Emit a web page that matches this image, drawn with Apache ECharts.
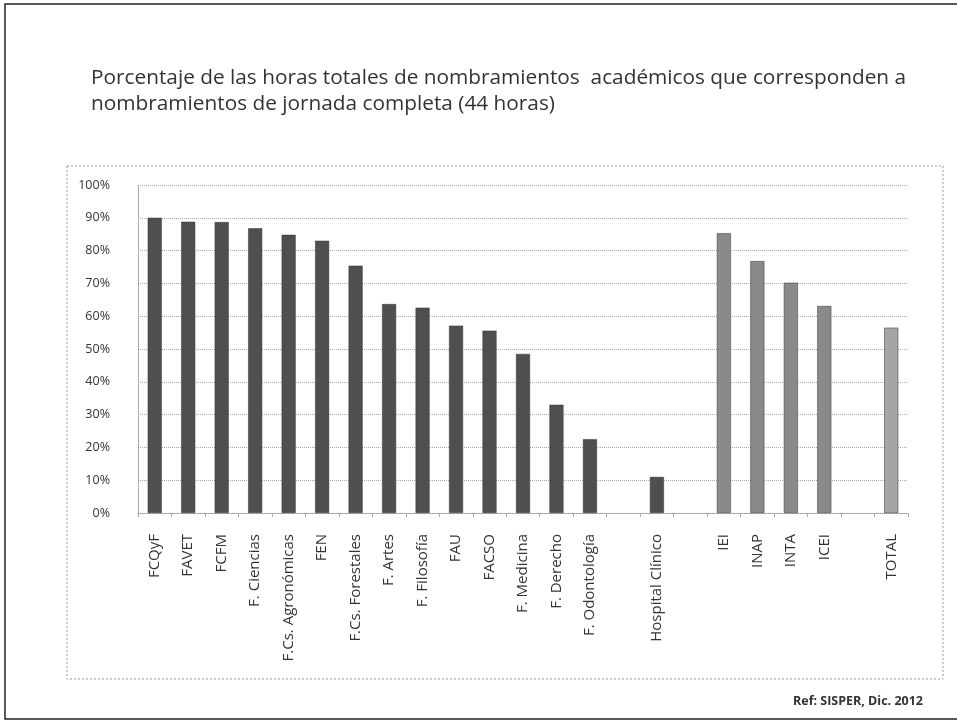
<!DOCTYPE html>
<html><head><meta charset="utf-8">
<script src="https://cdn.jsdelivr.net/npm/echarts@6/dist/echarts.min.js"></script>
<style>html,body{margin:0;padding:0;background:#fff}#c{width:957px;height:721px}</style>
</head><body><div id="c"></div>
<script>
const categories = ["FCQyF","FAVET","FCFM","F. Ciencias","F.Cs. Agronómicas","FEN","F.Cs. Forestales","F. Artes","F. Filosofía","FAU","FACSO","F. Medicina","F. Derecho","F. Odontología","","Hospital Clínico","","IEI","INAP","INTA","ICEI","","TOTAL"];
const values = [90,88.8,88.7,86.8,84.8,83,75.4,63.7,62.6,57.1,55.6,48.5,33,22.5,null,11,null,85.3,76.8,70.2,63.1,null,56.5];
const institutos = ["IEI","INAP","INTA","ICEI"];
const totalLabel = "TOTAL";
const yTicks = [0,10,20,30,40,50,60,70,80,90,100];
const titleLines = ["Porcentaje de las horas totales de nombramientos  académicos que corresponden a","nombramientos de jornada completa (44 horas)"];
const sourceNote = "Ref: SISPER, Dic. 2012";

const chart = echarts.init(document.getElementById('c'), null, {renderer:'canvas'});
chart.setOption({
  backgroundColor:'#fff',
  animation:false,
  title:{
    text: titleLines.join('\n'),
    left:86, top:60,
    textStyle:{fontFamily:'Open Sans', fontSize:20.8, fontWeight:'normal', color:'#333', lineHeight:26}
  },
  graphic:[
    {type:'rect', shape:{x:5,y:4,width:960,height:715}, style:{fill:'none', stroke:'#222', lineWidth:1.5}, silent:true},
    {type:'rect', shape:{x:67,y:166,width:876,height:513}, style:{fill:'none', stroke:'#999', lineWidth:1, lineDash:[2,2]}, silent:true},
    {type:'text', right:34, top:695, style:{text:sourceNote, fontFamily:'Open Sans', fontSize:12.5, fontWeight:'bold', fill:'#333'}}
  ],
  grid:{left:138, right:49, top:185, bottom:208, containLabel:false},
  xAxis:{
    type:'category', data:categories,
    axisLine:{lineStyle:{color:'#999', type:'dotted'}},
    axisTick:{show:true, length:4, lineStyle:{color:'#aaa'}},
    axisLabel:{rotate:90, interval:0, margin:21, fontFamily:'Open Sans', fontSize:15, color:'#333'}
  },
  yAxis:{
    type:'value', min:0, max:100, interval:10,
    axisLine:{show:true, lineStyle:{color:'#999', type:'dotted'}},
    axisTick:{show:false},
    splitLine:{lineStyle:{color:'#aaa', type:'dotted'}},
    axisLabel:{formatter:'{value}%', margin:28, fontFamily:'Open Sans', fontSize:12.5, color:'#333'}
  },
  series:[{
    type:'bar', data:values, barWidth:14,
    itemStyle:{
      color:function(p){
        const name = categories[p.dataIndex];
        if(name===totalLabel) return '#a5a5a5';
        if(institutos.indexOf(name)>=0) return '#8a8a8a';
        return '#4f4f4f';
      },
      borderColor:'#333', borderWidth:0.5
    }
  }]
});
</script></body></html>
